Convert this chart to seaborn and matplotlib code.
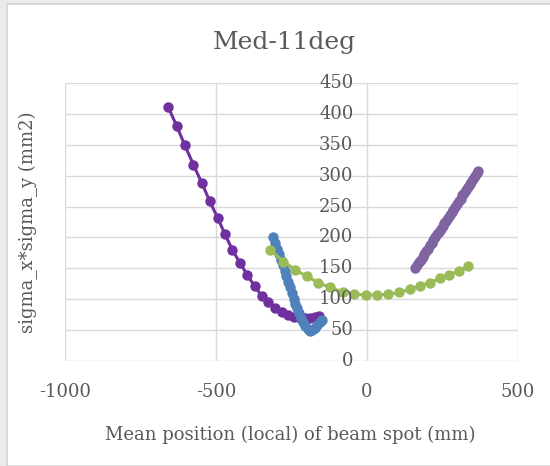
import pandas as pd
import matplotlib.pyplot as plt
import seaborn as sns
from matplotlib.patches import Rectangle

# Series 1 (purple, left branch)
x_s1 = [-658, -630, -603, -575, -547, -521, -494, -470, -446, -421, -396, -372,
        -349, -327, -305, -283, -262, -242, -222, -204, -188, -172, -158]
y_s1 = [411, 380, 349, 318, 288, 259, 231, 205, 180, 159, 139, 121,
        106, 95, 86, 79, 74, 71, 69, 69, 70, 71, 73]

# Series 2 (blue)
x_s2 = [-310, -303, -297, -291, -285, -279, -273, -267, -261, -255, -249, -243,
        -237, -231, -225, -219, -212, -205, -197, -189, -181, -173, -165, -157, -150]
y_s2 = [200, 191, 182, 173, 164, 155, 146, 137, 128, 119, 110, 101,
        93, 85, 77, 70, 63, 57, 52, 48, 50, 54, 58, 63, 67]

# Series 3 (green)
x_s3 = [-321, -277, -238, -200, -161, -123, -80, -42, -3, 34, 71, 107,
        142, 175, 209, 242, 273, 306, 336]
y_s3 = [180, 161, 148, 137, 127, 119, 112, 108, 107, 107, 108, 111,
        116, 122, 127, 134, 140, 146, 153]

# Series 4 (violet, right branch)
x_s4 = [160, 166, 172, 178, 184, 190, 196, 202, 208, 214, 220, 226, 232, 238,
        244, 250, 256, 262, 268, 274, 280, 286, 292, 298, 304, 310, 316, 322,
        328, 334, 340, 346, 352, 358, 364, 368]
y_s4 = [151, 155, 160, 164, 169, 173, 178, 182, 187, 191, 196, 200, 205, 209,
        214, 218, 223, 227, 232, 236, 241, 245, 250, 254, 259, 263, 268, 272,
        277, 281, 286, 290, 295, 299, 304, 307]

x_ticks = [-1000, -500, 0, 500]
y_ticks = [0, 50, 100, 150, 200, 250, 300, 350, 400, 450]

series = [('s1', x_s1, y_s1, '#7030A0'),
          ('s2', x_s2, y_s2, '#4F81BD'),
          ('s3', x_s3, y_s3, '#9BBB59'),
          ('s4', x_s4, y_s4, '#8064A2')]

sns.set_theme(style='white')
plt.rcParams['font.family'] = ['DejaVu Serif']

fig = plt.figure(figsize=(5.5, 4.66), dpi=100)
fig.patch.set_facecolor('#ebebeb')
fig.patches.append(Rectangle((7 / 550, 0), 1, 1 - 4 / 466, transform=fig.transFigure,
                             facecolor='white', edgecolor='#d4d4d4', linewidth=1.2, zorder=-1))

ax = fig.add_axes([65 / 550, 1 - 361 / 466, (518 - 65) / 550, (361 - 83) / 466])
ax.set_facecolor('none')

for name, xs, ys, col in series:
    d = pd.DataFrame({'x': xs, 'y': ys})
    sns.lineplot(data=d, x='x', y='y', sort=False, estimator=None, ax=ax,
                 color=col, linewidth=2.2, marker='o', markersize=7.5,
                 markeredgewidth=0, zorder=3)

ax.set_xlim(-1000, 500)
ax.set_ylim(0, 450)
ax.set_xticks(x_ticks)
ax.set_yticks(y_ticks)
ax.set_xticklabels([])
ax.set_yticklabels([])
ax.grid(True, color='#d9d9d9', linewidth=1)
for s in ax.spines.values():
    s.set_visible(False)
ax.tick_params(length=0)
ax.set_xlabel('')
ax.set_ylabel('')

# tick labels: y labels sit next to the x=0 axis, x labels below the plot
tc = '#595959'
for v in y_ticks:
    ax.text(-45, v, str(v), ha='right', va='center', fontsize=13, color=tc)
for v in x_ticks:
    ax.text(v, -50, str(v), ha='center', va='center', fontsize=13, color=tc)

fig.text(284 / 550, 1 - 42 / 466, 'Med-11deg', ha='center', va='center',
         fontsize=18, color=tc)
fig.text(290 / 550, 1 - 435 / 466, 'Mean position (local) of beam spot (mm)',
         ha='center', va='center', fontsize=13, color=tc)
fig.text(28 / 550, 1 - 222 / 466, 'sigma_x*sigma_y (mm2)', ha='center', va='center',
         rotation=90, fontsize=13, color=tc)

fig.savefig('out.png', dpi=100, facecolor=fig.get_facecolor())
